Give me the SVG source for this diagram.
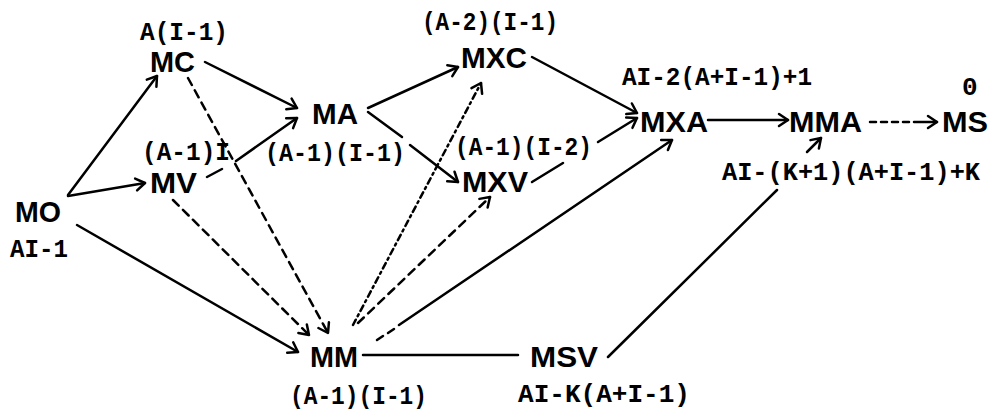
<svg xmlns="http://www.w3.org/2000/svg" width="991" height="413" viewBox="0 0 991 413">
<style>
.node{font-family:"Liberation Sans","DejaVu Sans",sans-serif;font-weight:bold;font-size:30px;fill:#000}
.lbl{font-family:"Liberation Mono","DejaVu Sans Mono",monospace;font-weight:bold;font-size:26px;fill:#000}
.c{stroke:#000;stroke-width:2.5;fill:none;stroke-linecap:round}
.a{marker-end:url(#arr)}
.d{stroke-dasharray:8,6}
.dd{stroke-dasharray:6,4,2,4}
</style>
<defs>
<marker id="arr" viewBox="-12 -8 14 16" markerWidth="14" markerHeight="16" refX="0" refY="0" orient="auto" markerUnits="userSpaceOnUse">
<path d="M-9,-6 L0,0 L-9,6" stroke="#000" stroke-width="2.5" fill="none" stroke-linecap="round" stroke-linejoin="round"/>
</marker>
</defs>
<rect width="991" height="413" fill="#fff"/>
<g id="connectors">
<path class="c a" d="M68,195 L157,76"/>
<path class="c a" d="M68,196 L145,183"/>
<path class="c a" d="M205,62 L297,108"/>
<path class="c a" d="M207,177 L222,169 M236,161 L297,118"/>
<path class="c a d" d="M188,78 L328,333"/>
<path class="c a d" d="M173,200 L309,335"/>
<path class="c a" d="M77,225 L298,352"/>
<path class="c a" d="M368,108 L458,67"/>
<path class="c a" d="M368,112 L402,137 M410,145 L458,182"/>
<path class="c a dd" d="M353,325 L481,83"/>
<path class="c a d" d="M358,323 L490,197"/>
<path class="c" d="M377,340 L383,336 M388,333 L394,329"/>
<path class="c a" d="M399,325 L672,140"/>
<path class="c" d="M363,355 L518,355"/>
<path class="c" d="M608,357 L777,190"/>
<path class="c a" d="M807,152 L821,138"/>
<path class="c a" d="M532,57 L637,113"/>
<path class="c a" d="M532,182 L563,163 M598,142 L637,118"/>
<path class="c a" d="M708,120 L788,120"/>
<path class="c a" d="M870,122 L876,122 M881,122 L887,122 M892,122 L898,122 M903,122 L909,122 M914,122 L937,122"/>
</g>
<g id="MO"><text class="node" x="15" y="222" textLength="46" lengthAdjust="spacingAndGlyphs">MO</text><text class="lbl" x="10" y="257" textLength="58" lengthAdjust="spacingAndGlyphs">AI-1</text></g>
<g id="MC"><text class="node" x="150" y="72" textLength="45" lengthAdjust="spacingAndGlyphs">MC</text><text class="lbl" x="140" y="40" textLength="88" lengthAdjust="spacingAndGlyphs">A(I-1)</text></g>
<g id="MV"><text class="node" x="150" y="193" textLength="47" lengthAdjust="spacingAndGlyphs">MV</text><text class="lbl" x="142" y="160" textLength="88" lengthAdjust="spacingAndGlyphs">(A-1)I</text></g>
<g id="MA"><text class="node" x="312" y="124" textLength="46" lengthAdjust="spacingAndGlyphs">MA</text><text class="lbl" x="265" y="161" textLength="140" lengthAdjust="spacingAndGlyphs">(A-1)(I-1)</text></g>
<g id="MXC"><text class="node" x="461" y="68" textLength="66" lengthAdjust="spacingAndGlyphs">MXC</text><text class="lbl" x="422" y="30" textLength="136" lengthAdjust="spacingAndGlyphs">(A-2)(I-1)</text></g>
<g id="MXV"><text class="node" x="462" y="192" textLength="66" lengthAdjust="spacingAndGlyphs">MXV</text><text class="lbl" x="455" y="155" textLength="137" lengthAdjust="spacingAndGlyphs">(A-1)(I-2)</text></g>
<g id="MXA"><text class="node" x="640" y="132" textLength="68" lengthAdjust="spacingAndGlyphs">MXA</text><text class="lbl" x="622" y="85" textLength="190" lengthAdjust="spacingAndGlyphs">AI-2(A+I-1)+1</text></g>
<g id="MMA"><text class="node" x="789" y="132" textLength="73" lengthAdjust="spacingAndGlyphs">MMA</text><text class="lbl" x="722" y="180" textLength="258" lengthAdjust="spacingAndGlyphs">AI-(K+1)(A+I-1)+K</text></g>
<g id="MS"><text class="node" x="942" y="132" textLength="46" lengthAdjust="spacingAndGlyphs">MS</text><text class="lbl" x="962" y="95">0</text></g>
<g id="MM"><text class="node" x="310" y="367" textLength="48" lengthAdjust="spacingAndGlyphs">MM</text><text class="lbl" x="290" y="404" textLength="137" lengthAdjust="spacingAndGlyphs">(A-1)(I-1)</text></g>
<g id="MSV"><text class="node" x="530" y="367" textLength="68" lengthAdjust="spacingAndGlyphs">MSV</text><text class="lbl" x="518" y="402" textLength="172" lengthAdjust="spacingAndGlyphs">AI-K(A+I-1)</text></g>
</svg>
